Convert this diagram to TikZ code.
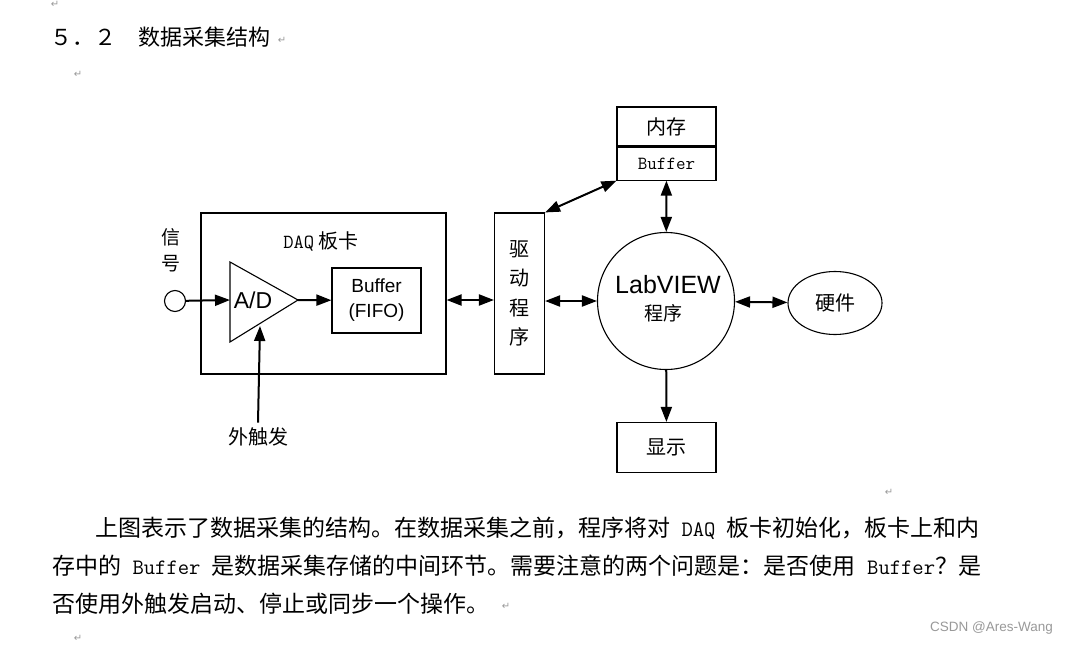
\documentclass[tikz,border=0pt]{standalone}
\usepackage{fontspec}
\setmainfont{Liberation Sans}
\newfontfamily\cjk{Noto Sans CJK SC}
\newfontfamily\symb{DejaVu Sans}
\usepackage{xcolor}
\usetikzlibrary{positioning,arrows.meta,shapes.geometric}
\definecolor{markgray}{gray}{0.6}
\definecolor{wmgray}{gray}{0.6}
\newcommand{\retmark}{{\symb\color{markgray}\fontsize{10}{10}\selectfont ↵}}
\newcommand{\latw}[1]{{\ttfamily\fontsize{22}{22}\selectfont #1}}

\begin{document}
\begin{tikzpicture}[x=1pt,y=-1pt,>={Triangle[length=15pt,width=11pt]},
  every node/.style={font=\cjk\fontsize{20}{20}\selectfont,inner sep=0pt},
  box/.style={draw,line width=1.1pt},
  link/.style={line width=2pt},
  para/.style={anchor=west,font=\cjk\fontsize{23}{23}\selectfont}]
  \useasboundingbox[fill=white] (0,0) rectangle (1068,645);
  % heading
  \node (r0) at (55,4) {\retmark};
  \node[anchor=west,font=\cjk\fontsize{22}{22}\selectfont] (title) at (50,37) {５．２　数据采集结构};
  \node (r1) at (282,40) {\retmark};
  \node (r2) at (78,74) {\retmark};
  % DAQ board
  \node[box,minimum width=245pt,minimum height=161pt] (daq) at (323.5,293.5) {};
  \node (daqlbl) at (321,241) {{\ttfamily\fontsize{20}{20}\selectfont DAQ} 板卡};
  \node[align=center,font=\cjk\fontsize{19}{26}\selectfont] (sig) at (171,250) {信\\号};
  \node[circle,box,minimum size=21pt] (src) at (175,301) {};
  \draw[box] (230,262) -- (298,300) -- (230,342) -- cycle;
  \coordinate (adin) at (230,300);
  \coordinate (adout) at (298,300);
  \coordinate (adbot) at (260,326);
  \node[font=\rmfamily\fontsize{23}{23}\selectfont] (ad) at (253,300) {A/D};
  \node[box,minimum width=89pt,minimum height=65pt,align=center,
    font=\rmfamily\fontsize{19}{25}\selectfont] (fifo) at (376.5,300.5) {Buffer\\(FIFO)};
  \node (trig) at (258,437) {外触发};
  % driver, LabVIEW, memory
  \node[box,minimum width=50pt,minimum height=161pt,align=center,
    font=\cjk\fontsize{20}{29.5}\selectfont] (drv) at (519.5,293.5) {驱\\动\\程\\序};
  \node[circle,box,minimum size=137pt] (lv) at (666,301) {};
  \node[font=\rmfamily\fontsize{25}{25}\selectfont] (lvname) at (668,285) {LabVIEW};
  \node[font=\cjk\fontsize{19}{19}\selectfont] (lvprog) at (663,313) {程序};
  \node[ellipse,box,minimum width=94pt,minimum height=63pt] (hw) at (835,303) {硬件};
  \node[box,minimum width=99pt,minimum height=39pt] (mem) at (666.5,126.5) {内存};
  \node[box,minimum width=99pt,minimum height=33pt,below=0pt of mem,
    font=\ttfamily\fontsize{18.5}{18.5}\selectfont] (membuf) {Buffer};
  \node[box,minimum width=99pt,minimum height=50pt] (disp) at (666.5,447.5) {显示};
  % connectors
  \draw[link,->] (src) -- (adin);
  \draw[link,->] (adout) -- (fifo);
  \draw[link,->] ([yshift=5pt]trig.north) -- (adbot);
  \draw[link,<->] (daq.east |- adout) -- (drv.west |- adout);
  \draw[link,<->] (drv.east |- lv) -- (lv);
  \draw[link,<->] (lv) -- (hw);
  \draw[link,<->] (membuf) -- (lv);
  \draw[link,<->] (drv.north east) -- (membuf.south west);
  \draw[link,->] (lv) -- (disp);
  \node (r3) at (889,492) {\retmark};
  % text below
  \node[para] (line1) at (95,528) {上图表示了数据采集的结构。在数据采集之前，程序将对\latw{\ DAQ\ }板卡初始化，板卡上和内};
  \node[para] (line2) at (52,566) {存中的\latw{\ Buffer\ }是数据采集存储的中间环节。需要注意的两个问题是：是否使用\latw{\ Buffer}？是};
  \node[para] (line3) at (52,604) {否使用外触发启动、停止或同步一个操作。};
  \node (r4) at (506,606) {\retmark};
  \node (r5) at (78,638) {\retmark};
  \node[anchor=east,font=\rmfamily\fontsize{13.5}{14}\selectfont,text=wmgray] (wm) at (1053,628) {CSDN @Ares-Wang};
\end{tikzpicture}
\end{document}
